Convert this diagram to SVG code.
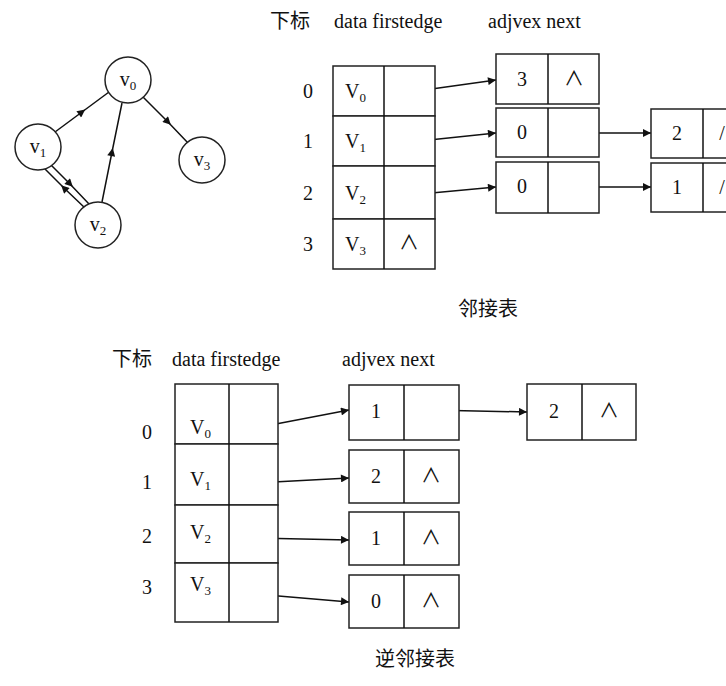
<svg xmlns="http://www.w3.org/2000/svg" width="726" height="686" viewBox="0 0 726 686">
<style>
text{font-family:"Liberation Serif","Noto Sans CJK SC",serif;font-size:20px;fill:#111}
.c{text-anchor:middle}
rect,circle{fill:#fff;stroke:#222;stroke-width:1.5}
line{stroke:#111;stroke-width:1.5}
polyline{fill:none;stroke:#111;stroke-width:1.5;marker-mid:url(#m)}
.e{marker-end:url(#a)}
</style>
<defs><marker id="a" viewBox="0 0 10 10" refX="10" refY="5" markerWidth="10" markerHeight="8" orient="auto" markerUnits="userSpaceOnUse"><path d="M0,0L10,5L0,10z" fill="#111"/></marker>
<marker id="m" viewBox="0 0 10 10" refX="5" refY="5" markerWidth="10" markerHeight="8" orient="auto" markerUnits="userSpaceOnUse"><path d="M0,0L10,5L0,10z" fill="#111"/></marker></defs>
<rect x="0" y="0" width="726" height="686" style="stroke:none"/>
<g id="connectors">
<polyline points="55,132 82,112 109,92"/>
<polyline points="50,164 70,184 89,204"/>
<polyline points="85,208 64,188 44,168"/>
<polyline points="102,202 112,152 122,103"/>
<polyline points="143,97 168,122 188,143"/>
<line class="e" x1="410" y1="92" x2="496" y2="80"/>
<line class="e" x1="410" y1="142" x2="496" y2="133"/>
<line class="e" x1="410" y1="195" x2="496" y2="187"/>
<line class="e" x1="572" y1="133" x2="651" y2="133"/>
<line class="e" x1="572" y1="187" x2="651" y2="187"/>
<line class="e" x1="255" y1="428" x2="349" y2="410"/>
<line class="e" x1="255" y1="483" x2="349" y2="478"/>
<line class="e" x1="255" y1="538" x2="349" y2="540"/>
<line class="e" x1="255" y1="594" x2="349" y2="602"/>
<line class="e" x1="430" y1="410" x2="527" y2="412"/>
</g>
<g id="v0"><circle cx="128" cy="80" r="23"/><text x="128" y="86" class="c">v<tspan font-size="13" dy="4">0</tspan></text></g>
<g id="v1"><circle cx="38" cy="147" r="23"/><text x="38" y="153" class="c">v<tspan font-size="13" dy="4">1</tspan></text></g>
<g id="v2"><circle cx="98" cy="225" r="23"/><text x="98" y="231" class="c">v<tspan font-size="13" dy="4">2</tspan></text></g>
<g id="v3"><circle cx="202" cy="160" r="23"/><text x="202" y="166" class="c">v<tspan font-size="13" dy="4">3</tspan></text></g>
<g id="top-header"><text x="270" y="28">下标</text><text x="334" y="28">data firstedge</text><text x="488" y="28">adjvex  next</text></g>
<g id="top-table">
<rect x="333" y="66" width="102" height="50"/><rect x="333" y="116" width="102" height="50"/><rect x="333" y="166" width="102" height="53"/><rect x="333" y="219" width="102" height="50"/>
<line x1="384" y1="66" x2="384" y2="269"/>
<text x="308" y="98" class="c">0</text><text x="308" y="148" class="c">1</text><text x="308" y="200" class="c">2</text><text x="308" y="251" class="c">3</text>
<text x="345" y="98">V<tspan font-size="13" dy="4">0</tspan></text><text x="345" y="148">V<tspan font-size="13" dy="4">1</tspan></text><text x="345" y="200">V<tspan font-size="13" dy="4">2</tspan></text><text x="345" y="251">V<tspan font-size="13" dy="4">3</tspan></text>
<text x="409" y="250" class="c">∧</text>
</g>
<g id="top-nodes">
<rect x="496" y="54" width="103" height="50"/><line x1="548" y1="54" x2="548" y2="104"/><text x="522" y="86" class="c">3</text><text x="574" y="86" class="c">∧</text>
<rect x="496" y="108" width="103" height="49"/><line x1="548" y1="108" x2="548" y2="157"/><text x="522" y="139" class="c">0</text>
<rect x="496" y="162" width="103" height="51"/><line x1="548" y1="162" x2="548" y2="213"/><text x="522" y="193" class="c">0</text>
<rect x="651" y="109" width="90" height="49"/><line x1="703" y1="109" x2="703" y2="158"/><text x="677" y="140" class="c">2</text><text x="722" y="140" class="c">/</text>
<rect x="651" y="163" width="90" height="49"/><line x1="703" y1="163" x2="703" y2="212"/><text x="677" y="194" class="c">1</text><text x="722" y="194" class="c">/</text>
</g>
<text x="488" y="316" class="c">邻接表</text>
<g id="bottom-header"><text x="112" y="366">下标</text><text x="172" y="366">data firstedge</text><text x="342" y="366">adjvex  next</text></g>
<g id="bottom-table">
<rect x="175" y="384" width="103" height="60"/><rect x="175" y="444" width="103" height="61"/><rect x="175" y="505" width="103" height="58"/><rect x="175" y="563" width="103" height="59"/>
<line x1="229" y1="384" x2="229" y2="622"/>
<text x="147" y="439" class="c">0</text><text x="147" y="489" class="c">1</text><text x="147" y="543" class="c">2</text><text x="147" y="594" class="c">3</text>
<text x="190" y="434">V<tspan font-size="13" dy="4">0</tspan></text><text x="190" y="486">V<tspan font-size="13" dy="4">1</tspan></text><text x="190" y="539">V<tspan font-size="13" dy="4">2</tspan></text><text x="190" y="591">V<tspan font-size="13" dy="4">3</tspan></text>
</g>
<g id="bottom-nodes">
<rect x="349" y="385" width="110" height="55"/><line x1="404" y1="385" x2="404" y2="440"/><text x="376" y="418" class="c">1</text>
<rect x="349" y="450" width="110" height="53"/><line x1="404" y1="450" x2="404" y2="503"/><text x="376" y="483" class="c">2</text><text x="431" y="483" class="c">∧</text>
<rect x="349" y="512" width="110" height="53"/><line x1="404" y1="512" x2="404" y2="565"/><text x="376" y="545" class="c">1</text><text x="431" y="545" class="c">∧</text>
<rect x="349" y="575" width="110" height="53"/><line x1="404" y1="575" x2="404" y2="628"/><text x="376" y="608" class="c">0</text><text x="431" y="608" class="c">∧</text>
<rect x="527" y="384" width="109" height="56"/><line x1="582" y1="384" x2="582" y2="440"/><text x="554" y="418" class="c">2</text><text x="609" y="418" class="c">∧</text>
</g>
<text x="415" y="666" class="c">逆邻接表</text>
</svg>
